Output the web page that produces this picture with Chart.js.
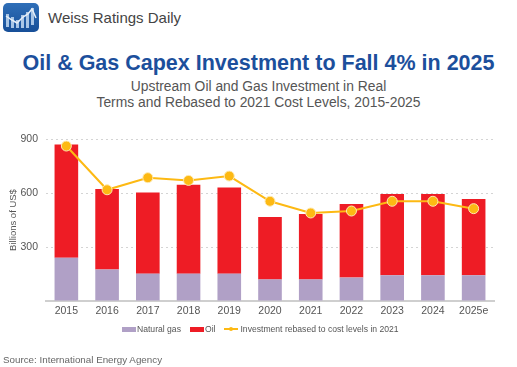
<!DOCTYPE html>
<html>
<head>
<meta charset="utf-8">
<script src="https://cdn.jsdelivr.net/npm/chart.js@4"></script>
<style>
  html, body { margin: 0; padding: 0; background: #fff; }
  body { width: 517px; height: 367px; position: relative; overflow: hidden; font-family: "Liberation Sans", Arial, sans-serif; }
  canvas { position: absolute; left: 0; top: 0; }
  .abs { position: absolute; white-space: nowrap; }
  #logo { left: 3px; top: 3px; width: 36px; height: 29px; border-radius: 5px; background: linear-gradient(#2f6fb8, #174f98); }
  #brand { left: 48px; top: 8px; font-size: 15px; line-height: 19px; color: #444; }
  #title { left: 0; width: 517px; top: 50px; text-align: center; font-size: 21.5px; line-height: 26px; font-weight: bold; color: #1c4f9c; }
  #subtitle { left: 0; width: 517px; top: 79px; text-align: center; font-size: 13.85px; line-height: 15.5px; color: #555; }
  #source { left: 3px; top: 354px; font-size: 9.8px; line-height: 12px; color: #666; }
  #legend { left: 122px; top: 323px; font-size: 8.6px; line-height: 12px; color: #555; display: flex; align-items: center; }
  .swatch { display: inline-block; width: 14px; height: 5px; margin-right: 1px; }
  .legend-item { display: flex; align-items: center; margin-right: 9px; }
  .line-key { position: relative; width: 14px; height: 1.5px; background: #fdb913; margin-right: 2px; }
  .line-key::after { content: ""; position: absolute; left: 5px; top: -1.5px; width: 4px; height: 4px; border-radius: 50%; background: #fdb913; }
</style>
</head>
<body>
<div id="logo" class="abs">
  <svg width="36" height="29" viewBox="0 0 36 29">
    <g fill="#a9c6e6">
      <rect x="3" y="11" width="3" height="13"/><rect x="8" y="14" width="3" height="11"/>
      <rect x="13" y="17" width="3" height="8"/><rect x="18" y="12" width="3" height="13"/>
      <rect x="23" y="9" width="3" height="16"/><rect x="28" y="5" width="3" height="17"/>
    </g>
    <polyline points="3,13 9,17 14,20 20,14 25,11 29,6 33,15" fill="none" stroke="#e6eff8" stroke-width="1.5"/>
  </svg>
</div>
<div id="brand" class="abs">Weiss Ratings Daily</div>
<div id="title" class="abs">Oil &amp; Gas Capex Investment to Fall 4% in 2025</div>
<div id="subtitle" class="abs">Upstream Oil and Gas Investment in Real<br>Terms and Rebased to 2021 Cost Levels, 2015-2025</div>
<canvas id="capexChart" width="517" height="367"></canvas>
<div id="legend" class="abs"></div>
<div id="source" class="abs">Source: International Energy Agency</div>

<script>
const years = ["2015", "2016", "2017", "2018", "2019", "2020", "2021", "2022", "2023", "2024", "2025e"];
const naturalGas = [240, 175, 152, 152, 152, 120, 120, 130, 143, 143, 143];
const oil = [630, 447, 451, 494, 479, 347, 363, 409, 451, 451, 424];
const rebased = [861, 618, 685, 670, 694, 554, 489, 500, 554, 554, 513];
const yTicks = [0, 300, 600, 900];

const GAS_COLOR = "#b0a0c6";
const OIL_COLOR = "#ee1c25";
const LINE_COLOR = "#fdb913";

const ctx = document.getElementById("capexChart").getContext("2d");
new Chart(ctx, {
  type: "bar",
  data: {
    labels: years,
    datasets: [
      {
        label: "Natural gas",
        data: naturalGas,
        backgroundColor: GAS_COLOR,
        stack: "capex",
        order: 2,
        barPercentage: 0.58,
        categoryPercentage: 1,
      },
      {
        label: "Oil",
        data: oil,
        backgroundColor: OIL_COLOR,
        stack: "capex",
        order: 2,
        barPercentage: 0.58,
        categoryPercentage: 1,
      },
      {
        type: "line",
        label: "Investment rebased to cost levels in 2021",
        data: rebased,
        borderColor: LINE_COLOR,
        backgroundColor: LINE_COLOR,
        borderWidth: 2,
        pointBackgroundColor: LINE_COLOR,
        pointBorderColor: "#fde9b0",
        pointBorderWidth: 1,
        pointRadius: 5,
        tension: 0,
        order: 1,
      },
    ],
  },
  options: {
    responsive: false,
    animation: false,
    layout: { padding: { left: 0, right: 23, top: 139, bottom: 41 } },
    plugins: {
      legend: { display: false },
      tooltip: { enabled: false },
    },
    scales: {
      x: {
        stacked: true,
        afterFit: (scale) => { scale.height = 25; },
        grid: { display: false, drawTicks: false },
        border: { display: true, color: "#cfcfcf", width: 2 },
        ticks: { color: "#555", font: { size: 10.5, family: "Liberation Sans" }, padding: 4, maxRotation: 0, autoSkip: false },
      },
      y: {
        stacked: true,
        min: 0,
        max: 900,
        afterFit: (scale) => { scale.width = 46; },
        afterBuildTicks: (scale) => { scale.ticks = yTicks.map((v) => ({ value: v })); },
        grid: {
          color: (c) => (c.tick.value === 0 ? "transparent" : "#d4d4d4"),
          drawTicks: false,
        },
        border: { display: false, dash: [2, 3] },
        ticks: {
          color: "#555",
          font: { size: 10.5, family: "Liberation Sans" },
          padding: 8,
          callback: (v) => (v === 0 ? "" : v),
        },
        title: {
          display: true,
          text: "Billions of US$",
          color: "#555",
          font: { size: 9.5, family: "Liberation Sans" },
          padding: { top: 8, bottom: 0 },
        },
      },
    },
  },
});

// legenda dibuat manual supaya garis + titik sama seperti aslinya
const legend = document.getElementById("legend");
[["Natural gas", GAS_COLOR], ["Oil", OIL_COLOR]].forEach(([name, color]) => {
  const item = document.createElement("span");
  item.className = "legend-item";
  const box = document.createElement("span");
  box.className = "swatch";
  box.style.background = color;
  item.appendChild(box);
  item.appendChild(document.createTextNode(name));
  legend.appendChild(item);
});
const lineItem = document.createElement("span");
lineItem.className = "legend-item";
const key = document.createElement("span");
key.className = "line-key";
lineItem.appendChild(key);
lineItem.appendChild(document.createTextNode("Investment rebased to cost levels in 2021"));
legend.appendChild(lineItem);
</script>
</body>
</html>
